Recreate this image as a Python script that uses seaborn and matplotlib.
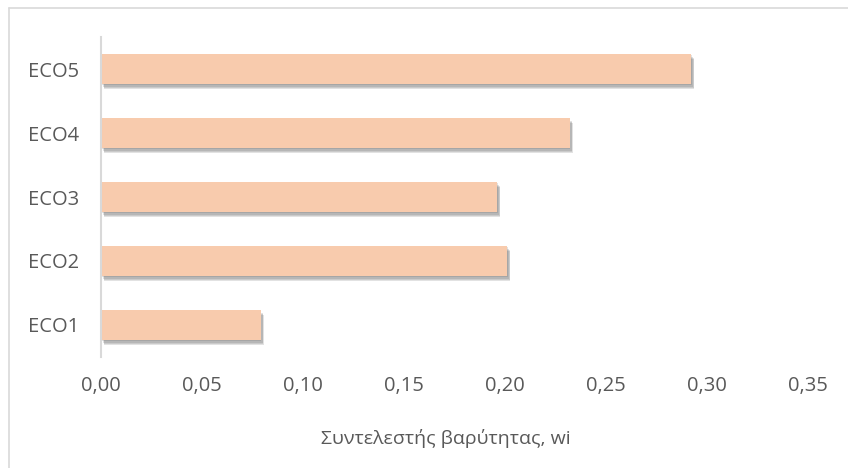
import matplotlib
matplotlib.use("Agg")
import matplotlib.pyplot as plt
import matplotlib.patheffects as pe
from matplotlib.lines import Line2D
from matplotlib.ticker import FuncFormatter
import seaborn as sns
import pandas as pd

# values
criteria = ['ECO1', 'ECO2', 'ECO3', 'ECO4', 'ECO5']
weights = [0.079, 0.201, 0.196, 0.232, 0.292]
x_ticks = [0.00, 0.05, 0.10, 0.15, 0.20, 0.25, 0.30, 0.35]

df = pd.DataFrame({'criterion': criteria, 'weight': weights})

sns.set_style('white')
plt.rcParams['font.family'] = ['Open Sans', 'DejaVu Sans']

text_col = '#595959'
bar_col = '#F8CBAD'

fig = plt.figure(figsize=(8.48, 4.68), dpi=100)
ax = fig.add_axes([0.1191, 0.2372, 0.8337, 0.6837])

sns.barplot(data=df, x='weight', y='criterion', order=criteria[::-1],
            color=bar_col, saturation=1, width=0.47, ax=ax)

# soft drop shadow, a few stacked translucent layers
shadow = [pe.SimplePatchShadow(offset=o, shadow_rgbFace='#606060', alpha=0.18)
          for o in [(0.5, -1), (1.5, -2), (2, -3), (2.5, -3.5)]]
for bar in ax.patches:
    bar.set_linewidth(0)
    bar.set_path_effects(shadow + [pe.Normal()])

ax.set_xlim(0, 0.35)
ax.set_xticks(x_ticks)
ax.xaxis.set_major_formatter(FuncFormatter(lambda v, p: f'{v:.2f}'.replace('.', ',')))
ax.tick_params(axis='both', length=0, labelsize=14.5, colors=text_col)
ax.tick_params(axis='y', pad=16)
ax.tick_params(axis='x', pad=14)
ax.set_ylabel('')
ax.set_xlabel('Συντελεστής βαρύτητας, wi', fontsize=14, color=text_col)
ax.xaxis.set_label_coords(0.488, -0.225)

for s in ['top', 'right', 'bottom']:
    ax.spines[s].set_visible(False)
ax.spines['left'].set_color('#D9D9D9')
ax.spines['left'].set_linewidth(1.5)

# light outer chart frame (top and left edges visible in the crop)
fig.add_artist(Line2D([0.0106, 1.0], [1 - 7.5 / 468] * 2, color='#D9D9D9', lw=1.2, transform=fig.transFigure))
fig.add_artist(Line2D([0.0106, 0.0106], [0.0, 1 - 7.5 / 468], color='#D9D9D9', lw=1.2, transform=fig.transFigure))

fig.savefig('out.png', dpi=100, facecolor='white')
